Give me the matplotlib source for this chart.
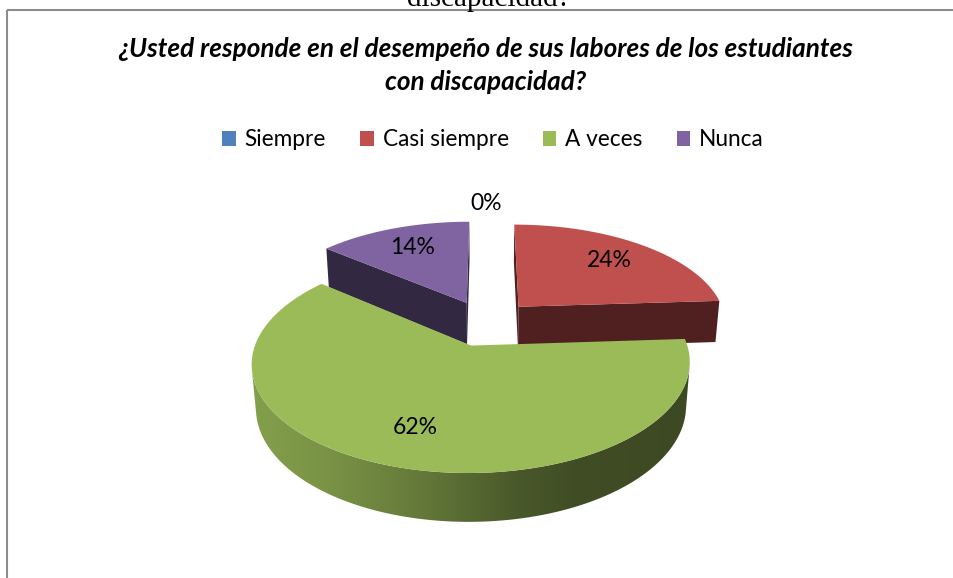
import numpy as np
import matplotlib.pyplot as plt
from matplotlib.patches import Polygon, Patch
from matplotlib.colors import to_rgb

categorias = ['Siempre', 'Casi siempre', 'A veces', 'Nunca']
porcentajes = [0, 24, 62, 14]
colores = ['#4F81BD', '#C0504D', '#9BBB59', '#8064A2']
colores_lado = ['#26405E', '#501F1F', '#4A5A2A', '#322841']
titulo = ['¿Usted responde en el desempeño de sus labores de los estudiantes',
          'con discapacidad?']
texto_arriba = 'discapacidad?'

plt.rcParams['font.family'] = ['Lato', 'DejaVu Sans']

# camara en perspectiva (como el pastel 3D de Excel)
cx, cy = 486.5, 323
fx, fy = 1190, 1251
D = 5.7
elev = np.radians(27)
ce, se = np.cos(elev), np.sin(elev)
alto = 0.22
separacion = 0.23


def proyectar(X, Y, Z=0.0):
    X = np.asarray(X, float)
    Y = np.asarray(Y, float)
    prof = Y * ce - Z * se + D
    return np.column_stack([cx + X * fx / prof, cy - (Y * se + Z * ce) * fy / prof])


fig = plt.figure(figsize=(9.54, 5.78), dpi=100)
ax = fig.add_axes([0, 0, 1, 1])
ax.set_xlim(0, 954)
ax.set_ylim(578, 0)
ax.axis('off')

# marco del grafico y texto cortado de arriba
ax.plot([7, 954], [10, 10], color='#8c8c8c', lw=1.5, solid_capstyle='butt')
ax.plot([7, 7], [10, 578], color='#8c8c8c', lw=1.5, solid_capstyle='butt')
ax.text(489, 6, texto_arriba, ha='center', va='baseline', fontsize=21,
        family=['Liberation Serif'])

ax.text(486, 57, titulo[0], ha='center', va='baseline', fontsize=18.8,
        fontweight='bold', fontstyle='italic')
ax.text(486, 90, titulo[1], ha='center', va='baseline', fontsize=18.8,
        fontweight='bold', fontstyle='italic')

total = sum(porcentajes)
angulos = np.concatenate([[0], np.cumsum(porcentajes)]) / total * 360


def sombra(base):
    rel = [0, 0.18, 0.38, 0.61, 0.75, 1]
    fac = [0.85, 0.78, 0.65, 0.47, 0.41, 0.39]
    t = np.linspace(0, 1, 256)
    f = np.interp(t, rel, fac)
    rgb = np.array(to_rgb(base))
    return (f[:, None] * rgb[None, :])[None, :, :]


orden = sorted(range(len(porcentajes)),
               key=lambda i: -np.cos(np.radians((angulos[i] + angulos[i + 1]) / 2)))

for i in orden:
    if porcentajes[i] == 0:
        continue
    a1, a2 = angulos[i], angulos[i + 1]
    medio = np.radians((a1 + a2) / 2)
    px, py = separacion * np.sin(medio), separacion * np.cos(medio)
    th = np.radians(np.linspace(a1, a2, 200))
    bx = px + np.sin(th)
    by = py + np.cos(th)

    # caras radiales
    for a, signo in [(a1, -1), (a2, 1)]:
        ar = np.radians(a)
        nx, ny = signo * np.cos(ar), -signo * np.sin(ar)
        if px * nx + (py + D * ce) * ny < 0:
            ex, ey = px + np.sin(ar), py + np.cos(ar)
            pts = np.vstack([proyectar([px, ex], [py, ey], 0),
                             proyectar([ex, px], [ey, py], -alto)])
            ax.add_patch(Polygon(pts, closed=True, fc=colores_lado[i], ec='none'))

    # pared exterior
    vis = px * np.sin(th) + py * np.cos(th) + 1 + D * ce * np.cos(th) < 0
    if vis.any():
        arriba = proyectar(bx[vis], by[vis], 0)
        abajo = proyectar(bx[vis], by[vis], -alto)
        pts = np.vstack([arriba, abajo[::-1]])
        pared = Polygon(pts, closed=True, fc='none', ec='none')
        ax.add_patch(pared)
        x0, x1 = pts[:, 0].min(), pts[:, 0].max()
        y0, y1 = pts[:, 1].min(), pts[:, 1].max()
        im = ax.imshow(sombra(colores[i]), extent=[x0, x1, y1, y0],
                       aspect='auto', interpolation='bilinear', zorder=1)
        im.set_clip_path(pared)

    # cara superior
    pts = np.vstack([proyectar([px], [py], 0), proyectar(bx, by, 0)])
    ax.add_patch(Polygon(pts, closed=True, fc=colores[i], ec='none', zorder=1))

ax.set_xlim(0, 954)
ax.set_ylim(578, 0)

# etiquetas de porcentaje
for i, v in enumerate(porcentajes):
    medio = np.radians((angulos[i] + angulos[i + 1]) / 2)
    r = 0.72 if v > 0 else 1.24
    lx = (separacion + r) * np.sin(medio)
    ly = (separacion + r) * np.cos(medio)
    p = proyectar([lx], [ly], 0)[0]
    ax.text(p[0], p[1], f'{v}%', ha='center', va='center', fontsize=16.5, zorder=5)

manejadores = [Patch(fc=c, ec='none') for c in colores]
ax.legend(manejadores, categorias, loc='center', bbox_to_anchor=(493 / 954, 1 - 140 / 578),
          ncol=4, frameon=False, fontsize=16.3, handlelength=0.6, handleheight=0.6,
          handletextpad=0.4, columnspacing=1.5)

fig.savefig('out.png', dpi=100)
